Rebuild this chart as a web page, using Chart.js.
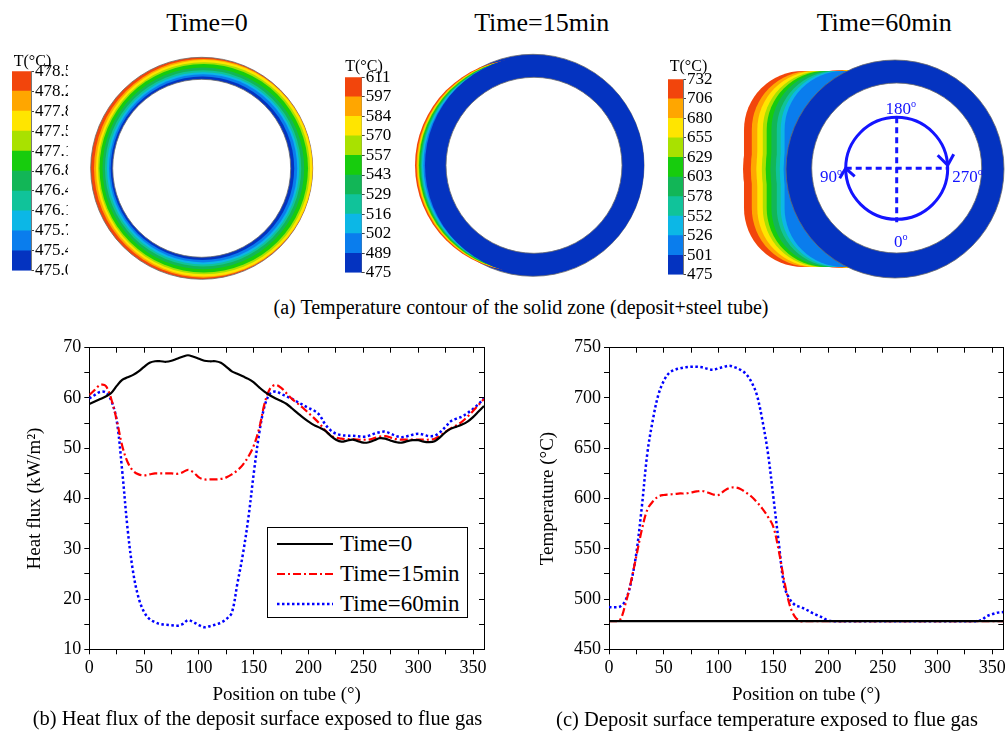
<!DOCTYPE html>
<html>
<head>
<meta charset="utf-8">
<script src="https://cdn.jsdelivr.net/npm/chart.js@4.4.0/dist/chart.umd.min.js"></script>
<style>
html,body{margin:0;padding:0;background:#fff;overflow:hidden;}
#page{position:relative;width:1005px;height:737px;overflow:hidden;font-family:"Liberation Serif","Times New Roman",serif;color:#000;}
canvas{position:absolute;}
.t{position:absolute;transform:translate(-50%,-50%);line-height:1;white-space:nowrap;}
.t sup{font-size:0.6em;vertical-align:0.6em;line-height:0;}
.blue{color:#1414ff;}
#legend{position:absolute;left:267px;top:527px;width:201px;height:91px;border:1px solid #000;box-sizing:border-box;background:#fff;}
#legend span{position:absolute;left:72px;font-size:23px;line-height:1;transform:translateY(-50%);white-space:nowrap;}
</style>
</head>
<body>
<div id="page">
  <canvas id="rings" width="1005" height="250" style="left:0;top:40px"></canvas>
  <canvas id="cb0" width="56" height="222" style="left:12px;top:60px"></canvas>
  <canvas id="cb15" width="50" height="218" style="left:345px;top:66px"></canvas>
  <canvas id="cb60" width="50" height="218" style="left:668px;top:68px"></canvas>

  <div class="t" style="left:207px;top:22.5px;font-size:26px">Time=0</div>
  <div class="t" style="left:541.7px;top:22.5px;font-size:26px">Time=15min</div>
  <div class="t" style="left:884.2px;top:23px;font-size:26px">Time=60min</div>
  <div class="t" style="left:32.5px;top:61px;font-size:16px">T(°C)</div>
  <div class="t" style="left:364px;top:65.5px;font-size:16px">T(°C)</div>
  <div class="t" style="left:688.5px;top:66.3px;font-size:16px">T(°C)</div>
  <div class="t blue" style="left:900.8px;top:107.5px;font-size:17px">180<sup>o</sup></div>
  <div class="t blue" style="left:831px;top:176px;font-size:17px">90<sup>o</sup></div>
  <div class="t blue" style="left:967.5px;top:176px;font-size:17px">270<sup>o</sup></div>
  <div class="t blue" style="left:900.8px;top:240.5px;font-size:17px">0<sup>o</sup></div>
  <div class="t" style="left:521px;top:307px;font-size:20px">(a) Temperature contour of the solid zone (deposit+steel tube)</div>

  <canvas id="flux" width="500" height="380" style="left:0;top:330px"></canvas>
  <canvas id="temp" width="515" height="380" style="left:500px;top:330px"></canvas>
  <div id="legend"></div>

  <div class="t" style="left:257.5px;top:718px;font-size:20.5px">(b) Heat flux of the deposit surface exposed to flue gas</div>
  <div class="t" style="left:767px;top:719px;font-size:20.5px">(c) Deposit surface temperature exposed to flue gas</div>
</div>
<script>
'use strict';
Chart.defaults.font.family = '"Liberation Serif", "Times New Roman", serif';
Chart.defaults.color = '#000';

// ---- data ----
let seriesNames = ['Time=0', 'Time=15min', 'Time=60min'];

let positions = [0,5,10,15,20,25,30,35,40,45,50,55,60,65,70,75,80,85,90,95,100,105,110,115,120,125,130,135,140,145,150,155,160,165,170,175,180,185,190,195,200,205,210,215,220,225,230,235,240,245,250,255,260,265,270,275,280,285,290,295,300,305,310,315,320,325,330,335,340,345,350,355,360];

let flux0 = [58.8,59.3,59.8,60.3,61.0,62.4,63.6,64.1,64.6,65.3,
  66.2,67.0,67.3,67.3,67.2,67.4,67.8,68.2,68.5,68.2,
  67.8,67.4,67.3,67.3,67.0,66.2,65.3,64.8,64.3,63.8,
  63.1,62.1,61.2,60.5,59.9,59.4,58.8,57.9,57.0,56.1,
  55.3,54.6,54.1,53.5,52.5,51.7,51.3,51.5,51.7,51.4,
  51.1,51.2,51.6,52.0,51.9,51.5,51.2,51.1,51.4,51.6,
  51.6,51.3,51.2,51.4,52.2,53.2,53.9,54.3,54.7,55.3,
  56.2,57.3,58.4];
let flux15 = [60.6,61.6,62.6,62.4,59.8,55.6,50.5,47.2,45.5,44.8,
  44.6,44.8,45.0,45.0,45.0,45.0,44.9,45.2,45.7,45.2,
  44.2,43.8,43.8,43.8,43.9,44.2,44.8,45.6,46.7,48.3,
  50.5,54.0,59.0,61.9,62.6,62.0,60.9,59.8,58.9,58.0,
  57.0,56.0,54.9,53.6,52.6,52.1,51.9,51.8,51.8,51.7,
  51.7,51.7,52.0,52.3,52.4,52.1,51.8,51.7,51.7,51.7,
  51.7,51.7,51.7,51.9,52.5,53.3,54.0,54.6,55.3,56.3,
  57.4,58.6,59.8];
let flux60 = [59.9,60.6,61.2,61.1,59.5,55.5,45.5,33.8,25.3,20.2,
  17.4,16.0,15.4,15.0,14.9,14.8,14.7,15.0,15.8,15.4,
  14.8,14.4,14.6,14.9,15.3,16.0,17.3,23.0,28.8,36.0,
  45.0,53.0,58.5,60.9,61.3,60.8,60.3,59.8,59.2,58.6,
  58.0,57.5,56.6,54.8,53.6,52.9,52.6,52.5,52.5,52.4,
  52.3,52.5,52.9,53.2,53.3,52.9,52.4,52.2,52.4,52.7,
  52.9,52.7,52.4,52.5,53.2,54.3,55.4,55.9,56.3,57.0,
  57.8,58.8,59.9];

let temp0 = [478,478,478,478,478,478,478,478,478,478,
  478,478,478,478,478,478,478,478,478,478,
  478,478,478,478,478,478,478,478,478,478,
  478,478,478,478,478,478,478,478,478,478,
  478,478,478,478,478,478,478,478,478,478,
  478,478,478,478,478,478,478,478,478,478,
  478,478,478,478,478,478,478,478,478,478,
  478,478,478];
let temp15 = [478,478,479,495,517,543,569,589,597,602,
  603.5,604,604.5,605,605,606,607,607.5,606,604,
  603.5,607.5,610.5,611,609.5,606,602,596.5,590,582,
  572,548,518,494,482,478,478,478,478,478,
  478,478,478,478,478,478,478,478,478,478,
  478,478,478,478,478,478,478,478,478,478,
  478,478,478,478,478,478,478,478,478,478,
  478,478,478];
let temp60 = [492,491.8,492.5,498.5,516,546,592,645,678,703,
  717,725,728,729.5,730.5,731,731,730.5,729,728,
  729.5,731,732,730.5,728,724,716,703,678,646,
  602,556,513,500,494,492,489.5,486.5,484,481.5,
  478.5,478,478,478,478,478,478,478,478,478,
  478,478,478,478,478,478,478,478,478,478,
  478,478,478,478,478,478,478,478,479,483,
  485,486.5,487];

// colour bar tick labels, top to bottom
let cbLabels0 = ['478.5','478.2','477.8','477.5','477.1','476.8','476.4','476.1','475.7','475.4','475.0'];
let cbLabels15 = ['611','597','584','570','557','543','529','516','502','489','475'];
let cbLabels60 = ['732','706','680','655','629','603','578','552','526','501','475'];

// ---- styling / contour geometry ----
let bandColors = ['#f2450c','#ffa600','#ffe500','#a9e100','#17cc0d','#12b657','#10c39a','#0cb7e6','#0a7ded','#0433c0'];
let tubeBlue = '#0433c0';
let diagBlue = '#1414ff';
// Time=0: depth of each band boundary from the outer surface, left side / right side
let bandDepthLeft0 = [0,3.3,5.3,7.3,8.8,11.8,14.3,16.3,18.3,20];
let bandDepthRight0 = [0,0,0.3,2.7,4.7,8.5,11.5,13.5,15.5,18.5];
// 15 and 60 min: shift of each hot band boundary into the deposit (px)
let bandShift15 = [0,1.5,2.5,3.2,4,5,6,7,8.5];
let bandShift60 = [0,7.8,13.3,18.8,22.7,27.4,32.8,36.7,40.6];

// ---- contour panels as bubbles ----
function panel0() {
  let data = [], bg = [], bw = [], ps = [];
  let cx = 201.7, cy = 168.3, R = 111;
  for (let k = 0; k < bandColors.length; k++) {
    let l = cx - R + bandDepthLeft0[k];
    let r = cx + R - bandDepthRight0[k];
    data.push({x: (l + r) / 2, y: cy, r: (r - l) / 2});
    bg.push(bandColors[k]); bw.push(k === 0 ? 0.8 : 0); ps.push('circle');
  }
  data.push({x: cx, y: cy, r: 89}); bg.push('#fff'); bw.push(0.8); ps.push('circle');
  return {data, bg, bw, ps};
}
function panel15() {
  let data = [{x: 533, y: 165.3, r: 111}], bg = [tubeBlue], bw = [0.8], ps = ['circle'];
  for (let k = 0; k < bandShift15.length; k++) {
    data.push({x: 521 + bandShift15[k], y: 165.3, r: 106});
    bg.push(bandColors[k]); bw.push(0); ps.push('circle');
  }
  data.push({x: 534.5, y: 165.3, r: 109.5}); bg.push(tubeBlue); bw.push(0); ps.push('circle');
  data.push({x: 534, y: 165.3, r: 88}); bg.push('#fff'); bw.push(0.8); ps.push('circle');
  return {data, bg, bw, ps};
}
function panel60() {
  let data = [], bg = [], bw = [], ps = [];
  // deposit: a disc joined with a rounded block, each hotter band shifted to the left
  for (let k = 0; k < bandShift60.length; k++) {
    data.push({x: 842 + bandShift60[k], y: 169, r: 99});
    bg.push(bandColors[k]); bw.push(0); ps.push('circle');
    data.push({x: 842 + bandShift60[k], y: 169, r: 114.2});
    bg.push(bandColors[k]); bw.push(0); ps.push('rectRounded');
  }
  data.push({x: 895, y: 169, r: 109}); bg.push(tubeBlue); bw.push(0.8); ps.push('circle');
  data.push({x: 896.7, y: 168, r: 85}); bg.push('#fff'); bw.push(0.8); ps.push('circle');
  return {data, bg, bw, ps};
}

let ringSets = [panel0(), panel15(), panel60()].map(p => ({
  type: 'bubble', data: p.data, backgroundColor: p.bg, borderColor: '#6a6a6a',
  borderWidth: p.bw, pointStyle: p.ps, clip: false, order: 5
}));

// direction diagram inside the 60 min tube
let dc = {x: 896.7, y: 168.3, r: 51};
function segment(points, dash) {
  return {type: 'line', data: points, borderColor: diagBlue, borderWidth: 3, borderDash: dash,
    pointRadius: 0, fill: false, tension: 0, clip: false, order: 1};
}
let diagram = [
  {type: 'bubble', data: [{x: dc.x, y: dc.y, r: dc.r}], backgroundColor: 'rgba(0,0,0,0)',
   borderColor: diagBlue, borderWidth: 3, clip: false, order: 1},
  segment([{x: dc.x, y: dc.y - dc.r}, {x: dc.x, y: dc.y + dc.r + 3}], [6, 4]),
  segment([{x: dc.x - dc.r, y: dc.y}, {x: dc.x + dc.r, y: dc.y}], [6, 4]),
  segment([{x: dc.x - dc.r - 6, y: dc.y + 10}, {x: dc.x - dc.r, y: dc.y}, {x: dc.x - dc.r + 9, y: dc.y + 8}], []),
  segment([{x: dc.x + dc.r - 10, y: dc.y - 13}, {x: dc.x + dc.r, y: dc.y - 3}, {x: dc.x + dc.r + 6, y: dc.y - 14}], [])
];

new Chart(document.getElementById('rings'), {
  type: 'bubble',
  data: {datasets: ringSets.concat(diagram)},
  options: {
    responsive: false, animation: false, events: [],
    layout: {padding: 0, autoPadding: false},
    plugins: {legend: {display: false}, tooltip: {enabled: false}},
    scales: {
      x: {type: 'linear', display: false, min: 0, max: 1005},
      y: {type: 'linear', display: false, min: 40, max: 290, reverse: true}
    }
  }
});

// ---- colour bars ----
function colorbar(id, labels, padTop, padBottom, axisWidth) {
  new Chart(document.getElementById(id), {
    type: 'bar',
    data: {
      labels: [''],
      datasets: bandColors.slice().reverse().map(c => ({
        data: [1], backgroundColor: c, borderWidth: 0, barPercentage: 1, categoryPercentage: 1
      }))
    },
    options: {
      responsive: false, animation: false, events: [],
      layout: {padding: {top: padTop, bottom: padBottom, left: 0, right: 0}},
      plugins: {legend: {display: false}, tooltip: {enabled: false}},
      scales: {
        x: {stacked: true, display: false},
        y: {
          stacked: true, position: 'right', min: 0, max: 10,
          ticks: {stepSize: 1, autoSkip: false, padding: 1, font: {size: 17}, color: '#000',
                  callback: v => labels[10 - v]},
          grid: {drawOnChartArea: false, tickLength: 3, color: '#444'},
          border: {color: '#777'},
          afterFit(s) { s.width = axisWidth; }
        }
      }
    }
  });
}
colorbar('cb0', cbLabels0, 10.7, 10.3, 37);
colorbar('cb15', cbLabels15, 10.7, 11, 33.3);
colorbar('cb60', cbLabels60, 10.3, 11, 35);

// ---- line charts ----
let lineStyles = [
  {color: '#000000', dash: [], width: 2.2},
  {color: '#ff0000', dash: [8, 3, 2, 3], width: 2.2},
  {color: '#0000ff', dash: [2.5, 2.5], width: 2.5}
];
function pts(ys) { return positions.map((x, i) => ({x: x, y: ys[i]})); }

function mirror(pos, min, max, step) {
  let horiz = pos === 'top';
  return {
    type: 'linear', position: pos, min: min, max: max,
    ticks: {display: false, stepSize: step, includeBounds: false},
    grid: {drawOnChartArea: false, drawTicks: true, tickLength: -5, color: '#000'},
    border: {color: '#000', width: 1},
    afterFit(s) { if (horiz) s.height = 0; else s.width = 0; }
  };
}

function lineChart(id, series, yMin, yMax, yStep, yTitle, pad, yWidth) {
  new Chart(document.getElementById(id), {
    type: 'line',
    data: {
      datasets: series.map((s, i) => ({
        label: seriesNames[i], data: pts(s),
        borderColor: lineStyles[i].color, borderDash: lineStyles[i].dash,
        borderWidth: lineStyles[i].width, pointRadius: 0, fill: false, tension: 0.35
      }))
    },
    options: {
      responsive: false, animation: false, events: [],
      layout: {padding: pad},
      plugins: {legend: {display: false}, tooltip: {enabled: false}},
      scales: {
        x: {
          type: 'linear', position: 'bottom', min: 0, max: 360,
          ticks: {stepSize: 25, includeBounds: false, autoSkip: false, maxRotation: 0, padding: 3,
                  font: {size: 18}, color: '#000', callback: v => (v % 50 === 0 ? v : '')},
          grid: {drawOnChartArea: false, tickLength: 5, color: '#000'},
          border: {color: '#000', width: 1},
          title: {display: true, text: 'Position on tube (°)', font: {size: 19}, color: '#000', padding: {top: 2, bottom: 4}},
          afterFit(s) { s.height = 60.7; }
        },
        x2: mirror('top', 0, 360, 25),
        y: {
          type: 'linear', position: 'left', min: yMin, max: yMax,
          ticks: {stepSize: yStep / 2, includeBounds: false, autoSkip: false, padding: 3,
                  font: {size: 18}, color: '#000', callback: v => (v % yStep === 0 ? v : '')},
          grid: {drawOnChartArea: false, tickLength: 5, color: '#000'},
          border: {color: '#000', width: 1},
          title: {display: true, text: yTitle, font: {size: 19}, color: '#000', padding: {top: 4, bottom: 4}},
          afterFit(s) { s.width = yWidth; }
        },
        y2: mirror('right', yMin, yMax, yStep / 2)
      }
    }
  });
}

lineChart('flux', [flux0, flux15, flux60], 10, 70, 10, 'Heat flux (kW/m²)',
  {left: 19.6, right: 16, top: 17.7, bottom: 0}, 69.7);
lineChart('temp', [temp0, temp15, temp60], 450, 750, 50, 'Temperature (°C)',
  {left: 32.6, right: 11.7, top: 17.7, bottom: 0}, 76.4);

// ---- legend box inside heat flux chart ----
let legend = document.getElementById('legend');
let svg = '<svg width="70" height="91" style="position:absolute;left:0;top:0">';
seriesNames.forEach((name, i) => {
  let y = 16 + i * 30;
  svg += '<line x1="9" y1="' + y + '" x2="65" y2="' + y + '" stroke="' + lineStyles[i].color +
    '" stroke-width="' + lineStyles[i].width + '" stroke-dasharray="' + (lineStyles[i].dash.join(' ') || 'none') + '"/>';
  let span = document.createElement('span');
  span.style.top = (y - 1) + 'px';
  span.textContent = name;
  legend.appendChild(span);
});
svg += '</svg>';
legend.insertAdjacentHTML('afterbegin', svg);
</script>
</body>
</html>
